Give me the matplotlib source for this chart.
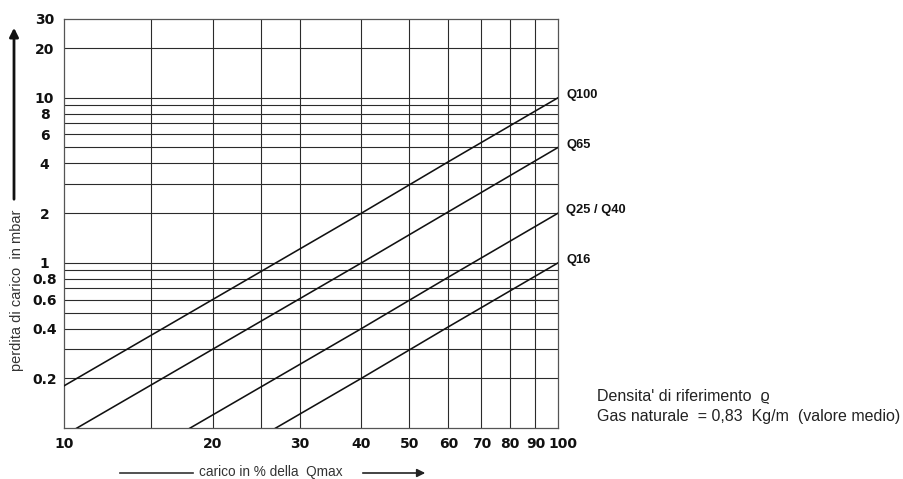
import matplotlib
matplotlib.use("Agg")
import matplotlib.pyplot as plt
import matplotlib.transforms as mtransforms
from matplotlib.patches import FancyArrowPatch

# ---- data ----
x_pts = [10, 20, 40, 60, 100]
series_names = ["Q100", "Q65", "Q25 / Q40", "Q16"]
q100 = [0.18, 0.60, 2.0, 4.1, 10.0]
q65 = [0.09, 0.30, 1.0, 2.04, 5.0]
q25_q40 = [0.036, 0.12, 0.40, 0.82, 2.0]
q16 = [0.018, 0.06, 0.20, 0.41, 1.0]
series_values = [q100, q65, q25_q40, q16]

x_ticks = [10, 20, 30, 40, 50, 60, 70, 80, 90, 100]
x_tick_labels = ["10", "20", "30", "40", "50", "60", "70", "80", "90", "100"]
x_grid = [15, 20, 25, 30, 40, 50, 60, 70, 80, 90]
y_ticks = [0.2, 0.4, 0.6, 0.8, 1, 2, 4, 6, 8, 10, 20, 30]
y_tick_labels = ["0.2", "0.4", "0.6", "0.8", "1", "2", "4", "6", "8", "10", "20", "30"]
y_grid = [0.2, 0.3, 0.4, 0.5, 0.6, 0.7, 0.8, 0.9, 1, 2, 3, 4, 5, 6, 7, 8, 9, 10, 20]

plt.rcParams['font.family'] = ['Liberation Sans', 'DejaVu Sans']

W, H = 904, 479
fig = plt.figure(figsize=(W / 100, H / 100), dpi=100)
left, right, top, bottom = 64, 558, 19, 428
ax = fig.add_axes([left / W, 1 - bottom / H, (right - left) / W, (bottom - top) / H])
ax.set_xscale('log')
ax.set_yscale('log')
ax.set_xlim(10, 100)
ax.set_ylim(0.1, 30)

gc = '#2b2b2b'
for xv in x_grid:
    ax.axvline(xv, color=gc, lw=0.8, zorder=1)
for yv in y_grid:
    ax.axhline(yv, color=gc, lw=0.8, zorder=1)

for vals in series_values:
    ax.plot(x_pts, vals, color='#111111', lw=1.15, zorder=3)

for s in ax.spines.values():
    s.set_color('#555555')
    s.set_linewidth(0.9)

ax.xaxis.set_minor_locator(matplotlib.ticker.NullLocator())
ax.yaxis.set_minor_locator(matplotlib.ticker.NullLocator())
ax.set_xticks(x_ticks)
ax.set_xticklabels(x_tick_labels, fontsize=10, fontweight='bold', color='#111111',
                   family='DejaVu Sans')
ax.set_yticks(y_ticks)
ax.set_yticklabels(y_tick_labels, fontsize=10, fontweight='bold', color='#111111',
                   ha='center', family='DejaVu Sans')
ax.tick_params(axis='both', length=0)
ax.tick_params(axis='x', pad=6.5)
ax.tick_params(axis='y', pad=14)

# nudge the crowded "100" label slightly to the right, as in the reference
lbl = ax.get_xticklabels()[-1]
lbl.set_transform(lbl.get_transform() + mtransforms.ScaledTranslation(5 / 100, 0, fig.dpi_scale_trans))

# right-side series labels
for name, vals in zip(series_names, series_values):
    ax.annotate(name, xy=(1.0, vals[-1]), xycoords=('axes fraction', 'data'),
                xytext=(6, 2), textcoords='offset points', fontsize=9.3,
                fontweight='bold', color='#111111', va='center', ha='left')

# y-axis label with arrow
fig.text(17 / W, 1 - 290 / H, "perdita di carico  in mbar", rotation=90,
         fontsize=10.5, color='#333333', ha='center', va='center')
fig.add_artist(FancyArrowPatch((14 / W, 1 - 202 / H), (14 / W, 1 - 25 / H),
                               transform=fig.transFigure, arrowstyle='-|>',
                               mutation_scale=13, lw=2.0, color='#111111'))

# x-axis label with arrows
fig.text(271 / W, 1 - 472 / H, "carico in % della  Qmax", fontsize=9.8,
         color='#333333', ha='center', va='center')
fig.add_artist(plt.Line2D([120 / W, 193 / W], [1 - 473 / H, 1 - 473 / H],
                          transform=fig.transFigure, color='#333333', lw=1.2))
fig.add_artist(FancyArrowPatch((360 / W, 1 - 473 / H), (428 / W, 1 - 473 / H),
                               transform=fig.transFigure, arrowstyle='-|>',
                               mutation_scale=12, lw=1.2, color='#222222'))

# density note
fig.text(597 / W, 1 - 397 / H, "Densita' di riferimento  \u03f1", fontsize=11.5,
         color='#222222', ha='left', va='center')
fig.text(597 / W, 1 - 416 / H, "Gas naturale  = 0,83  Kg/m  (valore medio)", fontsize=11.5,
         color='#222222', ha='left', va='center')

fig.savefig('out.png', dpi=100, facecolor='white')
